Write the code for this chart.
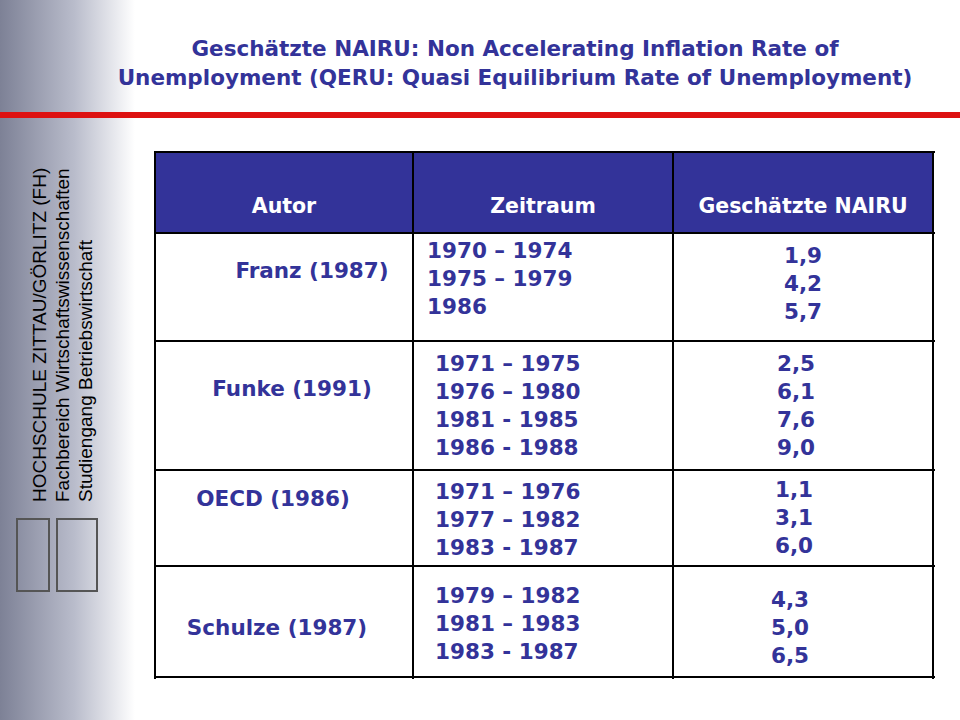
<!DOCTYPE html>
<html lang="de">
<head>
<meta charset="UTF-8">
<title>NAIRU</title>
<script src="https://cdn.jsdelivr.net/npm/chart.js"></script>
<style>
  body { margin: 0; width: 960px; height: 720px; position: relative; background: #fff; font-family: "DejaVu Sans", Verdana, sans-serif; overflow: hidden; }
  #side { position: absolute; left: 0; top: 0; width: 135px; height: 720px; background: linear-gradient(to right, #7d8196 0%, #b9bccb 55%, #ffffff 100%); }
  #sidetext { position: absolute; left: 28px; top: 502px; transform: rotate(-90deg); transform-origin: 0 0; color: #000; font-family: Arial, "Liberation Sans", sans-serif; font-size: 19px; line-height: 23px; white-space: nowrap; width: 340px; }
  #title { position: absolute; left: 80px; top: 34px; width: 870px; text-align: center; color: #333399; font-weight: bold; font-size: 21.5px; line-height: 29px; }
  #redline { position: absolute; left: 0; top: 112px; width: 960px; height: 6px; background: #dd1111; }
  .cell { position: absolute; color: #333399; font-weight: bold; font-size: 21.5px; line-height: 28px; white-space: nowrap; }
  .hline { position: absolute; height: 2px; background: #000; }
  .vline { position: absolute; width: 2px; background: #000; }
  #head { position: absolute; left: 155px; top: 152px; width: 778px; height: 81px; background: #333399; }
  .hd { position: absolute; color: #fff; font-weight: bold; font-size: 20.5px; top: 194px; text-align: center; }
  .logo { position: absolute; border: 2px solid #555; }
</style>
</head>
<body>
<div id="side"></div>
<div id="sidetext">HOCHSCHULE ZITTAU/GÖRLITZ (FH)<br>Fachbereich Wirtschaftswissenschaften<br>Studiengang Betriebswirtschaft</div>
<div class="logo" style="left:16px;top:518px;width:30px;height:70px;"></div>
<div class="logo" style="left:56px;top:518px;width:38px;height:70px;"></div>
<div id="title">Geschätzte NAIRU: Non Accelerating Inflation Rate of<br>Unemployment (QERU: Quasi Equilibrium Rate of Unemployment)</div>
<div id="redline"></div>
<div id="head"></div>
<div id="table"></div>
<script>
const headers = ['Autor', 'Zeitraum', 'Geschätzte NAIRU'];
const authors = ['Franz (1987)', 'Funke (1991)', 'OECD (1986)', 'Schulze (1987)'];
const periods = [
  ['1970 – 1974', '1975 – 1979', '1986'],
  ['1971 – 1975', '1976 – 1980', '1981 - 1985', '1986 - 1988'],
  ['1971 – 1976', '1977 – 1982', '1983 - 1987'],
  ['1979 – 1982', '1981 – 1983', '1983 - 1987']
];
const nairu = [
  ['1,9', '4,2', '5,7'],
  ['2,5', '6,1', '7,6', '9,0'],
  ['1,1', '3,1', '6,0'],
  ['4,3', '5,0', '6,5']
];

// layout of the slide table
const rowTops = [233, 341, 470, 566, 677];
const colX = [155, 413, 673, 933];
const authorPos = [[312, 257], [292, 375], [273, 485], [277, 614]];
const periodPos = [[427, 237], [435, 350], [435, 478], [435, 582]];
const valuePos = [[803, 242], [796, 350], [794, 476], [790, 586]];

const table = document.getElementById('table');
function add(cls, style, text) {
  const d = document.createElement('div');
  d.className = cls;
  Object.assign(d.style, style);
  if (text) d.innerHTML = text;
  table.appendChild(d);
}
headers.forEach((h, i) => add('hd', { left: colX[i] + 'px', width: (colX[i + 1] - colX[i]) + 'px' }, h));
add('hline', { left: '155px', top: '151px', width: '780px' });
rowTops.forEach(y => add('hline', { left: '155px', top: (y - 1) + 'px', width: '780px' }));
colX.forEach(x => add('vline', { left: (x - 1) + 'px', top: '151px', height: '528px' }));
authors.forEach((a, i) => add('cell', { left: (authorPos[i][0] - 100) + 'px', width: '200px', top: authorPos[i][1] + 'px', textAlign: 'center' }, a));
periods.forEach((p, i) => add('cell', { left: periodPos[i][0] + 'px', top: periodPos[i][1] + 'px' }, p.join('<br>')));
nairu.forEach((v, i) => add('cell', { left: (valuePos[i][0] - 40) + 'px', width: '80px', top: valuePos[i][1] + 'px', textAlign: 'center' }, v.join('<br>')));
</script>
</body>
</html>
